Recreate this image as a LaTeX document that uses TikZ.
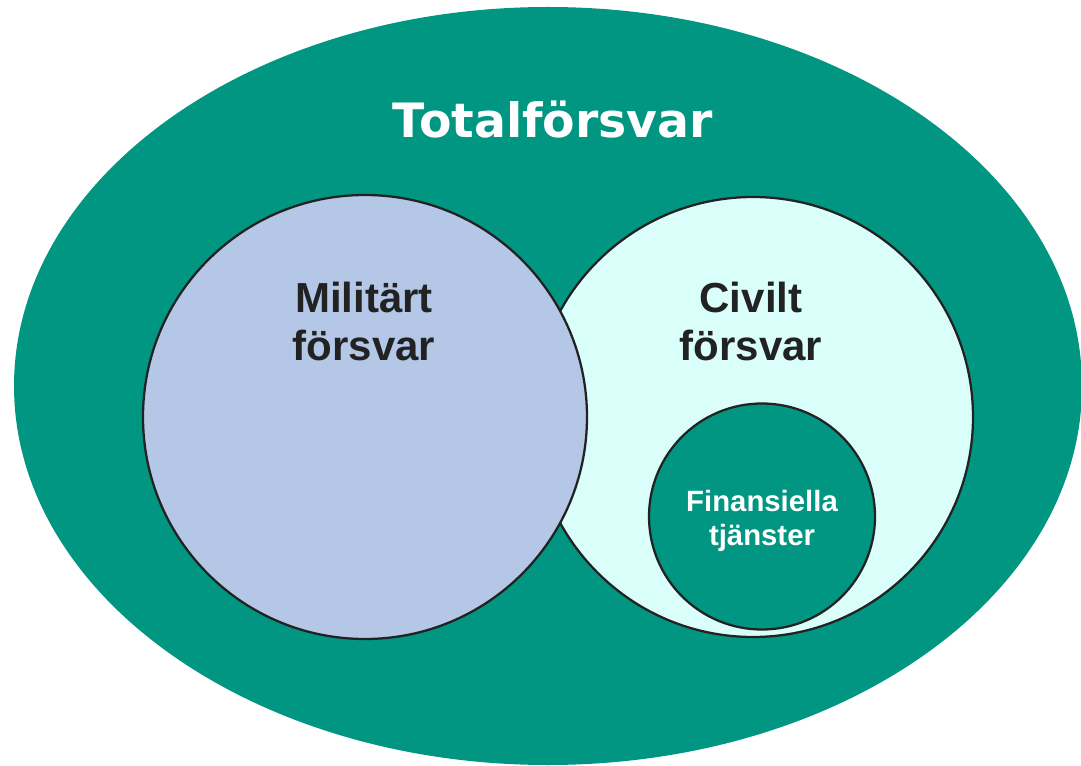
\documentclass[tikz,border=0pt]{standalone}
\usepackage{fontspec}
\setmainfont{Liberation Sans}
\newfontfamily\dejavu{DejaVu Sans}
\usetikzlibrary{shapes.geometric}
\definecolor{tgreen}{RGB}{0,150,130}
\definecolor{milblue}{RGB}{180,199,231}
\definecolor{civcyan}{RGB}{218,255,251}
\definecolor{outline}{RGB}{34,34,34}
\tikzset{
  ring/.style={circle, draw=outline, line width=1.7pt, inner sep=0pt},
  bigtext/.style={font=\fontsize{31.5pt}{36pt}\selectfont\bfseries, text=outline, align=center, anchor=base},
  smalltext/.style={font=\fontsize{22pt}{25.5pt}\selectfont\bfseries, text=white, align=center, anchor=base},
}
\begin{document}
\begin{tikzpicture}[x=0.75pt, y=-0.75pt]
\useasboundingbox (0,0) rectangle (1081,766);
\node[ellipse, fill=tgreen, minimum width=801pt, minimum height=568.5pt, inner sep=0pt] (total) at (548,386) {};
\node[ring, fill=civcyan, minimum size=330pt] (civ) at (753,417) {};
\node[ring, fill=milblue, minimum size=333pt] (mil) at (365,417) {};
\node[ring, fill=tgreen, minimum size=169.5pt] (fin) at (762,516.5) {};
\node[font=\dejavu\fontsize{35.5pt}{40pt}\selectfont\bfseries, text=white, anchor=base] (totaltxt) at (553,138) {Totalförsvar};
\node[bigtext] (miltxt) at (364,361) {Militärt\\försvar};
\node[bigtext] (civtxt) at (751,361) {Civilt\\försvar};
\node[smalltext] (fintxt) at (762,545) {Finansiella\\tjänster};
\end{tikzpicture}
\end{document}
